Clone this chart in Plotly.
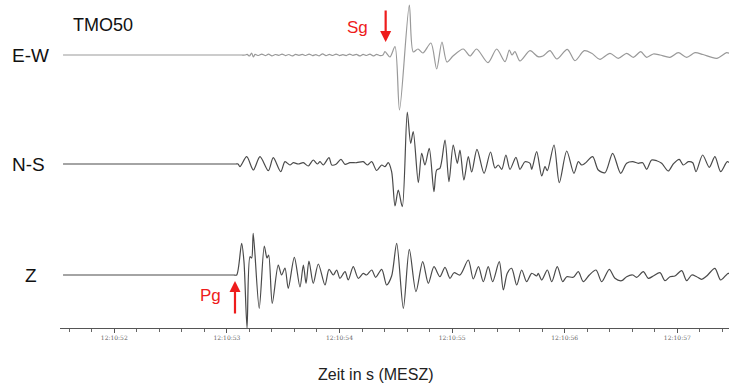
import plotly.graph_objects as go

# ---------------- data (time in s after 12:10:00, amplitude in arbitrary units) ----------------
ew_t = [51.545, 52.3, 53.0, 53.13, 53.161,
        53.18, 53.20, 53.22, 53.235, 53.25, 53.28, 53.31, 53.34, 53.37, 53.40, 53.43, 53.46, 53.49,
        53.52, 53.55, 53.58, 53.61, 53.64, 53.67, 53.70, 53.73, 53.76, 53.79, 53.82, 53.85, 53.88,
        53.91, 53.94, 53.97, 54.00, 54.03, 54.06, 54.09, 54.12, 54.15, 54.18, 54.21, 54.24, 54.27,
        54.30, 54.33, 54.36, 54.386,
        54.404, 54.448, 54.493, 54.533, 54.620, 54.655, 54.697, 54.741, 54.812, 54.863, 54.910,
        54.954, 55.008, 55.099, 55.159, 55.218, 55.319, 55.396, 55.470, 55.508, 55.532, 55.558,
        55.603, 55.692, 55.763, 55.807, 55.869, 55.931, 56.023, 56.091, 56.174, 56.240, 56.313,
        56.402, 56.476, 56.550, 56.609, 56.675, 56.728, 56.787, 56.846, 56.935, 57.009, 57.083,
        57.157, 57.228, 57.350, 57.438, 57.476]
ew_a = [0, 0, 0, 0, 0,
        0.6, -1.0, 2.0, -2.0, 0.6, -0.5, 0.9, -0.6, 0.8, -0.9, 0.5, -0.3, 0.9,
        -0.6, 0.5, -0.9, 0.6, -0.3, 0.6, -0.5, 0.9, -0.6, 0.4, -0.8, 1.2, -0.6,
        0.6, -0.5, 0.9, -0.6, 0.3, -0.6, 0.9, -0.3, 0.6, -0.9, 0.6, -0.5, 0.9,
        -0.9, 0.6, -0.6, 0,
        3.3, -2.0, 8.3, -55.0, 50.0, 3.0, 6.0, 2.0, 12.0, -14.0, 13.0,
        -7.0, -1.0, 6.0, -1.0, 6.0, -7.7, 6.0, -6.7, 5.0, 0.0, 3.3,
        -6.0, 4.3, -1.7, -1.0, 4.3, -4.0, 5.7, -5.7, 4.3, 1.7, -4.3,
        1.7, -3.3, 1.7, -2.3, 3.3, -2.3, 1.0, 0.0, -2.3, 2.3, -2.3,
        2.3, 0.5, -3.3, 2.3, 1.0]

ns_t = [51.545, 52.3, 53.0, 53.08, 53.099, 53.116, 53.176, 53.235, 53.294, 53.368, 53.412, 53.478, 53.516, 53.560,
        53.590, 53.634, 53.679, 53.723, 53.767, 53.803, 53.827, 53.856, 53.907, 53.931, 53.969,
        54.013, 54.049, 54.093, 54.153, 54.211, 54.247, 54.286, 54.330, 54.375, 54.404, 54.433,
        54.463, 54.493, 54.522, 54.558, 54.602, 54.632, 54.655, 54.700, 54.730, 54.759, 54.797,
        54.839, 54.863, 54.892, 54.937, 54.972, 55.010, 55.046, 55.070, 55.105, 55.144, 55.174,
        55.221, 55.284, 55.341, 55.381, 55.410, 55.441, 55.478, 55.514, 55.567, 55.603, 55.647,
        55.692, 55.707, 55.751, 55.796, 55.825, 55.846, 55.905, 55.952, 56.018, 56.082, 56.121,
        56.151, 56.180, 56.248, 56.298, 56.358, 56.426, 56.497, 56.550, 56.604, 56.653, 56.693,
        56.728, 56.772, 56.817, 56.861, 56.920, 56.964, 57.017, 57.053, 57.098, 57.137, 57.166,
        57.225, 57.284, 57.334, 57.385, 57.444, 57.477]
ns_a = [0, 0, 0, 0, 0, -2.7, 7.3, -6.0, 7.3, -6.7, 6.3, -7.7, 2.3, -1.0,
        1.3, 0.0, 1.3, -2.0, 4.0, 0.0, 2.3, -1.0, 6.3, -1.0, -0.3,
        4.7, -0.3, 1.3, 1.3, 2.3, -1.0, 2.3, -6.5, -1.0, -2.7, 1.3,
        -7.7, -42.0, -26.0, -42.7, 52.0, 20.7, 32.3, -18.7, 10.7, -1.0, 15.7,
        -27.7, -6.0, -4.3, 24.0, -17.7, 19.0, 0.7, 14.0, -16.0, 7.3, -8.0,
        14.7, -9.3, 12.0, -4.0, -1.0, -5.3, 9.0, -5.3, 6.7, -5.3, 2.3,
        0.7, -5.3, 12.3, -12.0, -2.7, -6.7, 19.0, -18.7, 13.0, -9.3, 2.3,
        -1.0, 0.7, 7.3, -6.0, -8.7, 10.7, -9.3, 0.7, 2.3, 0.7, 1.3,
        -5.3, 4.0, 3.3, 0.7, -7.0, 0.0, 4.7, -1.0, 2.3, 1.3, -7.7,
        9.0, -3.3, 7.3, -7.7, 2.3, 0.0]

z_t = [51.545, 52.3, 52.9, 53.06, 53.087, 53.131, 53.152, 53.179, 53.205, 53.220, 53.234, 53.287, 53.332, 53.356,
       53.371, 53.403, 53.456, 53.486, 53.516, 53.545, 53.599, 53.649, 53.679, 53.703, 53.729,
       53.767, 53.812, 53.871, 53.907, 53.945, 53.975, 54.004, 54.049, 54.078, 54.122, 54.167,
       54.211, 54.241, 54.286, 54.321, 54.375, 54.419, 54.463, 54.508, 54.567, 54.620, 54.679,
       54.739, 54.789, 54.839, 54.892, 54.937, 54.981, 55.017, 55.070, 55.144, 55.188, 55.234,
       55.277, 55.321, 55.360, 55.419, 55.455, 55.490, 55.529, 55.574, 55.618, 55.662, 55.707,
       55.751, 55.765, 55.796, 55.846, 55.885, 55.934, 55.982, 56.018, 56.076, 56.121, 56.165,
       56.219, 56.278, 56.329, 56.396, 56.446, 56.506, 56.550, 56.604, 56.639, 56.698, 56.742,
       56.787, 56.846, 56.891, 56.935, 56.979, 57.039, 57.083, 57.128, 57.172, 57.216, 57.261,
       57.334, 57.385, 57.452, 57.477]
z_a = [0, 0, 0, 0, 0, 31.7, 13.0, -53.0, 18.3, 17.0, 41.7, -33.3, 29.0, 17.0,
       20.0, -28.3, 10.0, 0.0, 7.0, -13.3, 17.7, -12.0, 10.0, -8.3, 14.0,
       -8.3, 11.0, -10.0, 5.7, 0.0, 5.0, -3.3, 3.3, -5.0, 8.3, -3.3,
       1.7, 0.0, 5.0, -2.3, 5.7, -10.0, -1.0, 31.7, -33.3, 25.7, -16.7,
       13.3, -8.3, 8.3, -1.7, 7.7, -3.3, 2.3, 0.0, 15.0, -4.0, 8.3,
       -6.7, 8.3, -6.7, 13.3, -15.0, 1.7, 6.7, -10.0, 5.0, -6.7, 1.7,
       -1.0, 1.7, -5.0, 5.0, -6.7, 8.3, -6.7, -1.7, -2.3, 3.3, -6.7,
       0.0, 5.0, -6.7, 5.7, -3.3, -5.7, -1.7, 0.0, -2.3, 3.3, -3.3,
       -1.0, 2.3, -5.7, -1.7, -1.0, 4.3, -5.7, 0.0, -1.7, -4.3, -1.0,
       6.7, -5.0, 1.7, 0.0]

components = ["E-W", "N-S", "Z"]
station = "TMO50"
tick_vals = [52, 53, 54, 55, 56, 57]
tick_text = ["12:10:52", "12:10:53", "12:10:54", "12:10:55", "12:10:56", "12:10:57"]
minor_vals = [round(51.6 + 0.2 * i, 1) for i in range(30)]
x_title = "Zeit in s (MESZ)"
phase_S = ("Sg", 54.410)
phase_P = ("Pg", 53.072)

# vertical trace baselines (plot units)
OFF = {"E-W": 273, "N-S": 164, "Z": 53}

FONT = "Liberation Sans, Arial, sans-serif"

fig = go.Figure()
series = [("E-W", ew_t, ew_a, "#999999"), ("N-S", ns_t, ns_a, "#4a4a4a"), ("Z", z_t, z_a, "#4a4a4a")]
for name, t, a, col in series:
    fig.add_trace(go.Scatter(
        x=t, y=[v + OFF[name] for v in a], mode="lines", name=name,
        line=dict(color=col, width=1.2, shape="spline", smoothing=0.8),
        hoverinfo="skip", showlegend=False))

ann = []
for name, xp in zip(components, [-0.0747, -0.0747, -0.0558]):
    ann.append(dict(x=xp, xref="paper", y=OFF[name], yref="y", text=name, showarrow=False,
                    xanchor="left", yanchor="middle",
                    font=dict(family=FONT, size=19, color="#111")))
ann.append(dict(x=0.017, xref="paper", y=303, yref="y", text=station, showarrow=False,
                xanchor="left", yanchor="middle", font=dict(family=FONT, size=18, color="#111")))
ann.append(dict(x=0.472, xref="paper", y=-0.143, yref="paper", text=x_title, showarrow=False,
                xanchor="center", yanchor="middle", font=dict(family=FONT, size=16, color="#222")))
# phase labels and arrows
ann.append(dict(x=phase_S[1], xref="x", y=286, yref="y", ax=0, ay=-33, showarrow=True,
                arrowhead=2, arrowsize=1, arrowwidth=2.2, arrowcolor="#ee1c1c", text=""))
ann.append(dict(x=phase_S[1] - 0.25, xref="x", y=301, yref="y", text=phase_S[0], showarrow=False,
                xanchor="center", yanchor="middle", font=dict(family=FONT, size=17, color="#ee1c1c")))
ann.append(dict(x=phase_P[1], xref="x", y=47, yref="y", ax=0, ay=34, showarrow=True,
                arrowhead=2, arrowsize=1, arrowwidth=2.2, arrowcolor="#ee1c1c", text=""))
ann.append(dict(x=phase_P[1] - 0.22, xref="x", y=33, yref="y", text=phase_P[0], showarrow=False,
                xanchor="center", yanchor="middle", font=dict(family=FONT, size=17, color="#ee1c1c")))

fig.update_layout(
    width=729, height=386,
    margin=dict(l=60, r=0, t=0, b=58),
    paper_bgcolor="white", plot_bgcolor="white",
    annotations=ann,
    xaxis=dict(range=[51.518, 57.459], showgrid=False, zeroline=False,
               showline=True, linecolor="#555", linewidth=1.2,
               tickmode="array", tickvals=tick_vals, ticktext=tick_text,
               ticks="outside", ticklen=4, tickcolor="#555", tickwidth=1,
               tickfont=dict(family="DejaVu Serif, serif", size=6, color="#666"),
               minor=dict(tickmode="array", tickvals=minor_vals, ticks="outside",
                          ticklen=3, tickcolor="#666", tickwidth=1),
               fixedrange=True),
    yaxis=dict(range=[0, 328], visible=False, fixedrange=True),
)

fig.write_html("out.html", config={"displayModeBar": False})
